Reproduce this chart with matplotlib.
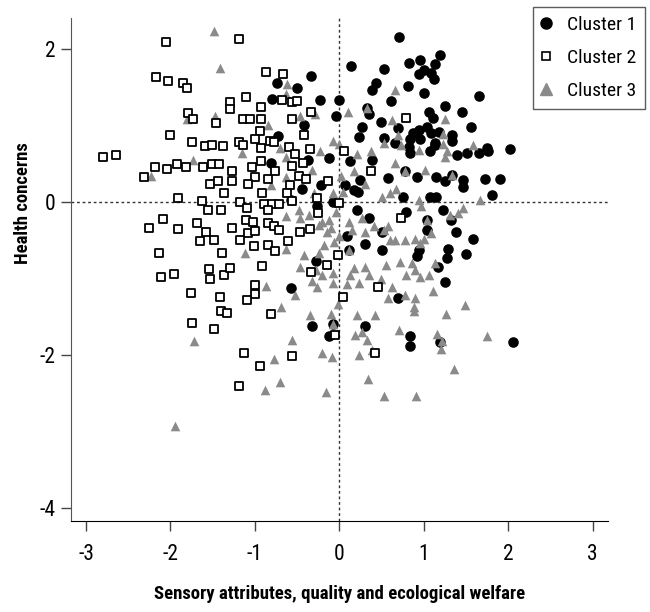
import matplotlib
matplotlib.use("Agg")
import matplotlib.pyplot as plt
from matplotlib.lines import Line2D
from matplotlib import font_manager as fm

# ---------------- data ----------------
# Cluster 1 (filled circles): x = sensory/quality/welfare, y = health concerns
c1_x = [0.14, -0.33, -0.74, -0.50, -0.80, -0.23, 0.00, -0.04, 0.33, 0.35, 0.39, 0.44, -0.42, -0.73, 0.27, 0.23,
        -0.12, -0.37, 0.39,
        0.71, 1.19, 0.96, 0.83, 1.13, 0.53, 1.00, 0.94, 1.09, 1.12, 0.81, 1.00, 1.66, 0.61, 1.25, 1.45, 1.06, 1.11,
        0.49, 1.56, 0.69, 1.04, 0.94, 0.87, 1.09, 1.18, 1.34, 0.84, 0.96, 1.33, 1.13, 1.75, 2.02, 0.53, 0.66, 0.82,
        0.84, 1.07, 1.13, 1.39, 1.51, 1.66, 1.76,
        -0.81, 0.13, -0.44, -0.22, 0.07, 0.17, 0.22, 0.25, -0.57, -0.08, -0.26, 0.21, 0.35, 0.09, 0.31, 0.11,
        -0.28, -0.57,
        0.58, 0.75, 0.78, 0.92, 1.15, 1.25, 1.33, 1.47, 1.47, 1.73, 1.90, 1.81, 1.07, 1.15, 0.79, 1.23, 1.32, 1.04,
        1.04, 1.38, 1.58, 0.51, 0.94, 0.92, 1.29, 1.50, 1.27, 0.51, 1.17, 1.25, 0.69,
        -0.32, -0.08, -0.12, 0.31, 0.84, 0.84, 1.19, 2.06]
c1_y = [1.78, 1.64, 1.55, 1.49, 1.34, 1.33, 1.33, 1.12, 1.23, 1.15, 1.46, 1.56, 1.00, 0.86, 0.98, 0.85,
        0.57, 0.55, 0.55,
        2.16, 1.92, 1.85, 1.81, 1.80, 1.74, 1.73, 1.67, 1.69, 1.61, 1.52, 1.43, 1.39, 1.32, 1.25, 1.17, 1.18, 1.10,
        1.04, 0.98, 0.97, 0.98, 0.94, 0.90, 0.90, 0.92, 0.88, 0.82, 0.82, 0.79, 0.77, 0.70, 0.69, 0.83, 0.77, 0.72,
        0.64, 0.66, 0.74, 0.61, 0.64, 0.64, 0.66,
        0.51, 0.53, 0.17, 0.22, 0.22, 0.16, 0.13, 0.29, 0.03, 0.00, -0.06, -0.10, -0.21, -0.44, -0.55, -0.63,
        -0.77, -1.12,
        0.31, 0.07, 0.40, 0.33, 0.33, 0.27, 0.35, 0.29, 0.20, 0.30, 0.30, 0.09, 0.07, 0.06, -0.13, -0.10, -0.24, -0.24,
        -0.37, -0.39, -0.49, -0.39, -0.63, -0.71, -0.62, -0.68, -0.74, -0.63, -0.85, -1.05, -1.25,
        -1.62, -1.60, -1.75, -1.62, -1.75, -1.89, -1.83, -1.83]

# Cluster 2 (open squares)
c2_x = [-2.05, -2.17, -2.03, -1.85, -1.80, -1.29, -1.29, -1.79, -1.73, -1.46, -2.00, -1.74, -1.59, -1.51, -1.38,
        -2.80, -2.64,
        -2.18, -2.04, -1.92, -1.82, -1.62, -1.51, -1.43, -1.27, -2.31, -1.53, -1.44, -1.27, -1.36, -1.91, -1.63,
        -1.55, -1.40, -2.09, -2.26, -1.91, -1.68, -1.58, -1.65, -1.49, -1.27, -2.13, -1.39, -2.11, -1.96, -1.54,
        -1.53, -1.37, -1.30, -1.76, -1.41,
        -1.40, -1.33, -1.75, -1.49,
        -1.19, -0.87, -0.67, -1.10, -0.68, -0.56, -0.50, -0.93, -1.14, -1.06, -0.93, -0.56, -0.34, -0.94, -0.42,
        -1.19, -1.14, -1.00, -0.93, -0.82, -0.77, -0.59, -0.53, -0.35, 0.05,
        0.79,
        -1.04, -0.93, -0.56, -0.43, 0.38, -1.00, -1.08, -0.85, -0.76, -0.48, -0.40, -0.13, -0.58, -0.62, -0.92,
        -1.18, -0.89, -0.80, -0.71, -0.56, -0.26, 0.00, -1.09, -0.85, -0.25, -1.10, -1.02, -0.85, -0.77, -0.71,
        -0.35, -0.47, -1.08, -1.00, -1.18, -0.61, -1.01, -0.85, -0.76, -0.01, -0.91, -0.33, -0.15, -1.00, -1.00,
        -1.09, 0.04, 0.46, 0.73,
        -0.81, -0.05, 0.42, -1.13, -0.56, -0.94, -1.19]
c2_y = [2.09, 1.63, 1.58, 1.55, 1.49, 1.31, 1.22, 1.16, 1.08, 1.03, 0.87, 0.78, 0.73, 0.74, 0.73,
        0.59, 0.61,
        0.45, 0.43, 0.50, 0.46, 0.45, 0.50, 0.49, 0.40, 0.32, 0.23, 0.27, 0.27, 0.11, 0.05, 0.01,
        -0.11, -0.10, -0.22, -0.34, -0.35, -0.27, -0.39, -0.51, -0.50, -0.34, -0.67, -0.67, -0.98, -0.94, -0.88,
        -1.01, -0.95, -0.87, -1.19, -1.24,
        -1.42, -1.45, -1.58, -1.66,
        2.13, 1.70, 1.67, 1.37, 1.33, 1.30, 1.32, 1.24, 1.09, 1.09, 1.09, 1.09, 1.17, 0.93, 0.88,
        0.78, 0.74, 0.82, 0.70, 0.80, 0.78, 0.72, 0.63, 0.69, 0.66,
        1.10,
        0.45, 0.53, 0.47, 0.51, 0.40, 0.33, 0.24, 0.30, 0.41, 0.34, 0.30, 0.27, 0.22, 0.12, 0.12,
        0.00, -0.03, -0.03, -0.03, 0.01, 0.05, -0.01, -0.08, -0.11, -0.15, -0.24, -0.26, -0.27, -0.32, -0.37,
        -0.36, -0.40, -0.41, -0.38, -0.50, -0.51, -0.58, -0.56, -0.64, -0.70, -0.84, -0.92, -0.82, -1.09, -1.21,
        -1.28, -1.24, -1.11, -0.21,
        -1.46, -1.74, -1.97, -1.97, -2.01, -2.15, -2.41]

# Cluster 3 (grey triangles)
c3_x = [-1.49, -1.41, -1.80, -1.47, -1.73, -2.23, -1.72, -1.95,
        -0.62, -0.63, -0.47, -0.29, 0.10, 0.33, -0.84, -0.70, -0.23, -0.08, 0.00, 0.21, -0.63, -1.15, 0.37,
        0.66, 0.62, 1.25, 1.23, 0.69, 1.23, 1.58, 0.53, 0.73, 0.94, 1.27, 1.25,
        0.17, 0.02, -0.32, -0.81, -0.63, 0.31, -0.30, -0.08, 0.04, -0.48, -0.04, -0.63, -0.46, -0.36, -0.20, -0.12,
        0.11, 0.27, -0.14, -0.10, -0.24, 0.00, 0.15, 0.31, 0.41, -0.06, -0.18, -0.24, -0.42, -0.47, -0.63, -1.12,
        -0.87, -0.28, -0.20, -0.08, -0.32, -0.26, -0.08, 0.17, 0.13, 0.31, 0.35, 0.23, 0.09, -0.53, 0.11,
        0.66, 0.60, 0.67, 0.51, 0.78, 1.02, 1.33, 1.67, 0.95, 0.97, 1.47, 1.41, 1.31, 1.04, 1.09, 0.78, 0.90, 1.00,
        0.60, 0.66, 0.53, 0.58, 0.96, 0.55, 0.72, 0.86, 0.79, 0.96, 1.06, 1.13, 0.90, 0.49, 0.62, 1.11, 0.78, 0.90,
        0.58,
        -0.69, -0.01, -0.35, -0.10, 0.21, 0.42, -0.08, 0.27, 0.19, 0.33, 0.39, 0.23, -0.56, -0.77, -0.21, -0.09,
        -0.70, -0.88, -0.16, 0.34,
        0.89, 0.88, 1.26, 1.49, 0.71, 1.16, 1.22, 1.20, 1.36, 1.75, 0.53, 0.91]
c3_y = [2.23, 1.75, 1.08, 1.12, 0.55, 0.34, -1.82, -2.93,
        1.54, 1.41, 1.12, 1.15, 1.17, 1.23, 1.00, 0.71, 0.67, 0.80, 0.76, 0.63, 0.59, 0.64, 0.66,
        1.46, 1.07, 1.08, 0.89, 0.88, 0.76, 0.75, 0.77, 0.75, 0.68, 0.66, 0.59,
        0.40, 0.34, 0.42, 0.22, 0.33, 0.24, 0.11, 0.11, 0.13, -0.10, -0.13, -0.19, -0.21, -0.17, -0.26, -0.24,
        -0.26, -0.21, -0.39, -0.34, -0.30, -0.45, -0.37, -0.39, -0.32, -0.52, -0.56, -0.67, -0.69, -0.85, -0.61, -0.67,
        -1.10, -0.89, -0.95, -0.93, -1.04, -1.11, -1.06, -0.87, -0.95, -0.85, -0.95, -1.06, -1.08, -1.22, -0.63,
        0.51, 0.11, 0.17, 0.07, 0.40, 0.42, 0.35, 0.02, 0.03, -0.06, -0.08, -0.15, -0.17, -0.24, -0.41, -0.50, -0.48, -0.48,
        -0.50, -0.50, -0.37, -0.32, -0.54, -0.82, -0.78, -0.80, -0.95, -0.98, -0.95, -0.80, -0.89, -1.01, -1.11, -1.17, -1.22, -1.26,
        -1.26,
        -1.37, -1.33, -1.48, -1.46, -1.48, -1.48, -1.60, -1.70, -1.74, -1.81, -1.93, -2.00, -1.80, -2.05, -1.97, -2.03,
        -2.35, -2.46, -2.49, -2.32,
        -1.37, -1.43, -1.46, -1.35, -1.68, -1.73, -1.82, -1.92, -2.18, -1.75, -2.54, -2.54]

labels = ["Cluster 1", "Cluster 2", "Cluster 3"]
xticks = [-3, -2, -1, 0, 1, 2, 3]
yticks = [-4, -2, 0, 2]
x_title = "Sensory attributes, quality and ecological welfare"
y_title = "Health concerns"


# ---------------- narrow font lookup ----------------
def _weight(w):
    if isinstance(w, (int, float)):
        return int(w)
    return {'bold': 700, 'semibold': 600, 'demibold': 600, 'heavy': 800, 'black': 900,
            'light': 300, 'medium': 500}.get(str(w).lower(), 400)


def _stretch_ok(f):
    st = str(f.stretch).lower()
    nm = f.name
    if 'Narrow' in nm:
        return 3
    if st in ('condensed',) or 'Condensed' in nm and 'Extra' not in nm and 'Semi' not in nm:
        return 2
    if st in ('semi-condensed',):
        return 1
    if st.isdigit() and int(st) < 500:
        return 1
    return 0


def pick_font(bold):
    order = ['Liberation Sans Narrow', 'Arial Narrow', 'Nimbus Sans Narrow', 'Roboto Condensed',
             'Noto Sans', 'Noto Sans Condensed', 'DejaVu Sans Condensed', 'DejaVu Sans', 'Open Sans', 'Roboto']
    best, bestkey = None, None
    for f in fm.fontManager.ttflist:
        s = _stretch_ok(f)
        if s == 0 or f.style != 'normal':
            continue
        w = _weight(f.weight)
        if bold != (w >= 650):
            continue
        if not bold and w < 350:
            continue
        if 'Mono' in f.name or 'Serif' in f.name:
            continue
        rank = order.index(f.name) if f.name in order else len(order)
        key = (rank, -s, abs(w - (700 if bold else 400)))
        if bestkey is None or key < bestkey:
            best, bestkey = f, key
    return best


reg = pick_font(False)
bld = pick_font(True)
if reg is not None:
    fp_reg = lambda size: fm.FontProperties(fname=reg.fname, size=size)
else:
    fp_reg = lambda size: fm.FontProperties(family=['Liberation Sans', 'DejaVu Sans'], size=size * 0.85)
if bld is not None:
    fp_bld = lambda size: fm.FontProperties(fname=bld.fname, size=size)
else:
    fp_bld = lambda size: fm.FontProperties(family=['Liberation Sans', 'DejaVu Sans'], weight='bold', size=size * 0.85)

# ---------------- plot ----------------
fig = plt.figure(figsize=(6.5, 6.12), dpi=100)
ax = fig.add_axes([0.109, 0.149, 0.826, 0.821])

grey = '#8a8a8a'
ax.axhline(0, color='#333333', lw=1, ls=(0, (2, 2)), zorder=1)
ax.axvline(0, color='#333333', lw=1, ls=(0, (2, 2)), zorder=1)
ax.scatter(c1_x, c1_y, s=58, marker='o', color='black', linewidths=0, zorder=2)
ax.scatter(c3_x, c3_y, s=48, marker='^', color=grey, linewidths=0, zorder=3)
ax.scatter(c2_x, c2_y, s=27, marker='s', facecolor='white', edgecolor='black', linewidths=1.3, zorder=4)

ax.set_xlim(-3.18, 3.18)
ax.set_ylim(-4.17, 2.40)
ax.set_xticks(xticks)
ax.set_yticks(yticks)
ax.set_xticklabels([str(t) for t in xticks])
ax.set_yticklabels([str(t) for t in yticks])
ax.tick_params(axis='both', length=7, width=1, color='#444444', pad=4)
ax.tick_params(axis='x', pad=10)
for lbl in ax.get_xticklabels() + ax.get_yticklabels():
    lbl.set_fontproperties(fp_reg(15.5))
for s in ['top', 'right']:
    ax.spines[s].set_visible(False)
ax.spines['left'].set_color('#555555')
ax.spines['bottom'].set_color('black')
ax.set_xlabel(x_title, fontproperties=fp_bld(13.5), labelpad=14)
ax.set_ylabel(y_title, fontproperties=fp_bld(13.5))
ax.yaxis.set_label_coords(-0.073, 0.633)

handles = [Line2D([], [], ls='none', marker='o', color='black', markersize=8),
           Line2D([], [], ls='none', marker='s', markerfacecolor='white', markeredgecolor='black',
                  markersize=6, markeredgewidth=1.2),
           Line2D([], [], ls='none', marker='^', color=grey, markersize=8)]
leg = fig.legend(handles, labels, loc='upper right', bbox_to_anchor=(645 / 650, 1 - 7 / 612),
                 prop=fp_reg(14), frameon=True, fancybox=False, edgecolor='#333333', borderpad=0.45,
                 handletextpad=0.85, labelspacing=0.78, borderaxespad=0, handlelength=0.45)
leg.get_frame().set_linewidth(1)

fig.savefig("out.png", dpi=100)
